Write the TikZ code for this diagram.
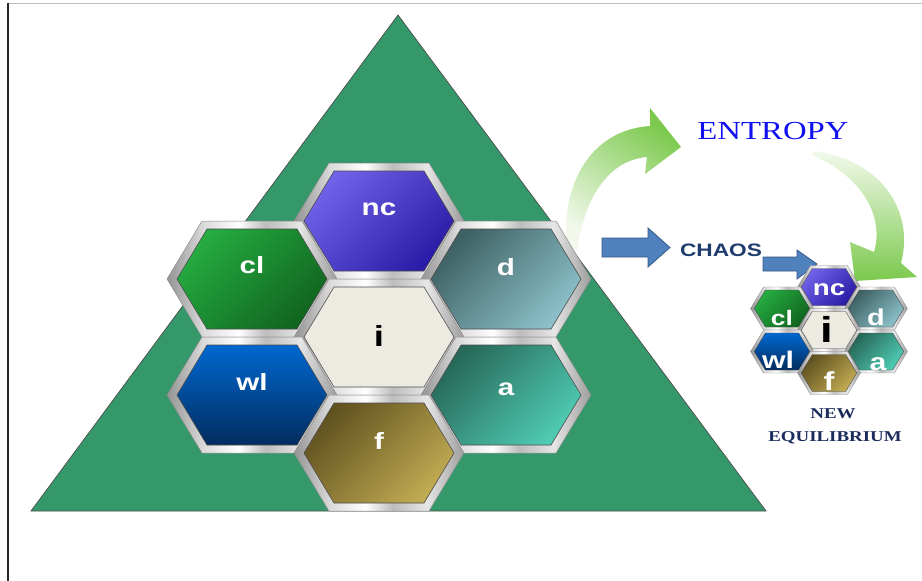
\documentclass[tikz,border=0pt]{standalone}
\usepackage{fontspec}
\setmainfont{Liberation Serif}
\newfontfamily\labelsans{Liberation Sans}

\definecolor{pyramid}{HTML}{34986A}
\definecolor{ncA}{HTML}{6F62E8}\definecolor{ncB}{HTML}{2A1CA6}
\definecolor{clA}{HTML}{25AB40}\definecolor{clB}{HTML}{11651F}
\definecolor{dA}{HTML}{3E6163}\definecolor{dB}{HTML}{8BC0C9}
\definecolor{wlA}{HTML}{0068D0}\definecolor{wlB}{HTML}{022C5E}
\definecolor{aA}{HTML}{276858}\definecolor{aB}{HTML}{4FCBB2}
\definecolor{fA}{HTML}{615220}\definecolor{fB}{HTML}{C0AA52}
\definecolor{icore}{HTML}{EDEBE1}
\definecolor{blockblue}{HTML}{4F81BD}\definecolor{blockedge}{HTML}{36598A}
\definecolor{leafgreen}{HTML}{7BC94C}\definecolor{leaflight}{HTML}{F2F9EC}
\definecolor{entropyblue}{HTML}{1010F0}
\definecolor{chaosblue}{HTML}{1E3D6C}
\definecolor{equilblue}{HTML}{1B2C5C}

% brushed-metal rim of every cell
\pgfdeclarehorizontalshading{metal}{100bp}{color(0bp)=(black!42); color(25bp)=(black!42);
  color(36bp)=(black!14); color(46bp)=(white); color(54bp)=(black!26);
  color(64bp)=(black!10); color(75bp)=(black!38); color(100bp)=(black!38)}

% text widened like the rest of the figure
\newcommand\wide[1]{\scalebox{1.26}[1]{#1}}

% one honeycomb cell: rim + coloured core
\newcommand\hexcell[3]{%
  \begin{scope}[shift={#1},scale=#2]
    \path[metalframe] (-85,0) -- (-50,-58) -- (50,-58) -- (85,0) -- (50,58) -- (-50,58) -- cycle;
    \path[hexcore,#3] (-75,0) -- (-45,-50) -- (45,-50) -- (75,0) -- (45,50) -- (-45,50) -- cycle;
  \end{scope}}

\begin{document}
\begin{tikzpicture}[x=1pt,y=-1pt,
  metalframe/.style={shade,shading=metal,draw=black!45,line width=0.5},
  hexcore/.style={draw=black!70,line width=0.6},
  diag/.style n args={2}{top color=#1,bottom color=#2,shading angle=45},
  hexlabel/.style={anchor=base,inner sep=0,text=white,
    font={\labelsans\bfseries\fontsize{#1}{#1}\selectfont}},
  hexlabel/.default=23.5,
  blockarrow/.style={fill=blockblue,draw=blockedge,line width=0.8,line join=miter},
  leafarrow/.style={draw=none}]

\useasboundingbox (0,0) rectangle (922,581);
\fill[white] (0,0) rectangle (922,581);

% page edges
\draw[black!25,line width=1] (8,3) -- (922,3);
\draw[black!85,line width=1.4] (8,3) -- (8,581);

% the pyramid
\path[fill=pyramid,draw=black!70,line width=0.7] (398,15) -- (766,511) -- (31,511) -- cycle;

% curved arrow rising towards ENTROPY
\path[leafarrow,top color=leafgreen,bottom color=leaflight,shading angle=-35]
  (567,250) .. controls (560,185) and (590,130) .. (650,126)
  -- (650,108) -- (681,147) -- (645,174) -- (647,157)
  .. controls (610,160) and (585,195) .. (577,250) -- cycle;

% curved arrow falling to the new equilibrium
\path[leafarrow,top color=leaflight,bottom color=leafgreen]
  (815,151) .. controls (880,160) and (915,210) .. (901,263)
  -- (917,277) -- (855,281) -- (850,242) -- (874,252)
  .. controls (885,215) and (860,175) .. (812,155) -- cycle;

% block arrows
\path[blockarrow] (602,238) -- (648,238) -- (648,228) -- (670,247.5)
  -- (648,267) -- (648,257) -- (602,257) -- cycle;
\path[blockarrow] (763,257) -- (797,257) -- (797,250) -- (817,264)
  -- (797,279) -- (797,271) -- (763,271) -- cycle;

% large honeycomb
\hexcell{(379,221)}{1}{diag={ncA}{ncB}}
\hexcell{(252,279)}{1}{diag={clA}{clB}}
\hexcell{(506,279)}{1}{diag={dA}{dB}}
\hexcell{(379,337)}{1}{fill=icore}
\hexcell{(252,395)}{1}{top color=wlA,bottom color=wlB}
\hexcell{(506,395)}{1}{diag={aA}{aB}}
\hexcell{(379,453)}{1}{diag={fA}{fB}}

\node[hexlabel] (nc) at (379,215) {\wide{nc}};
\node[hexlabel] (cl) at (252,273) {\wide{cl}};
\node[hexlabel] (d)  at (506,275) {\wide{d}};
\node[hexlabel=29,text=black] (i) at (379,346) {\wide{i}};
\node[hexlabel] (wl) at (252,390) {\wide{wl}};
\node[hexlabel] (a)  at (506,395) {\wide{a}};
\node[hexlabel] (f)  at (379,449) {\wide{f}};

% small honeycomb
\begin{scope}[metalframe/.append style={line width=0.3},hexcore/.append style={line width=0.4}]
\hexcell{(829,287)}{0.37}{diag={ncA}{ncB}}
\hexcell{(782,308.5)}{0.37}{diag={clA}{clB}}
\hexcell{(876,308.5)}{0.37}{diag={dA}{dB}}
\hexcell{(829,330)}{0.37}{fill=icore}
\hexcell{(782,351.5)}{0.37}{top color=wlA,bottom color=wlB}
\hexcell{(876,351.5)}{0.37}{diag={aA}{aB}}
\hexcell{(829,373)}{0.37}{diag={fA}{fB}}
\end{scope}

\node[hexlabel=22] (snc) at (829,295) {\wide{nc}};
\node[hexlabel=21] (scl) at (782,325) {\wide{cl}};
\node[hexlabel=23] (sd)  at (876,325) {\wide{d}};
\node[hexlabel=36,text=black] (si) at (827,342) {\wide{i}};
\node[hexlabel=24] (swl) at (778,368) {\wide{wl}};
\node[hexlabel=24] (sa)  at (878,370) {\wide{a}};
\node[hexlabel=26] (sf)  at (829,390) {\wide{f}};

% captions
\node[anchor=base,inner sep=0,text=entropyblue,font=\fontsize{26}{26}\selectfont]
  (entropy) at (773,139) {\wide{ENTROPY}};
\node[anchor=base,inner sep=0,text=chaosblue,font={\labelsans\bfseries\fontsize{18}{18}\selectfont}]
  (chaos) at (721,256) {\wide{CHAOS}};
\node[anchor=base,inner sep=0,text=equilblue,font={\bfseries\fontsize{15}{15}\selectfont}]
  (new) at (833,418) {\wide{NEW}};
\node[anchor=base,inner sep=0,text=equilblue,font={\bfseries\fontsize{15}{15}\selectfont}]
  (equilibrium) at (835,441) {\wide{EQUILIBRIUM}};
\end{tikzpicture}
\end{document}
